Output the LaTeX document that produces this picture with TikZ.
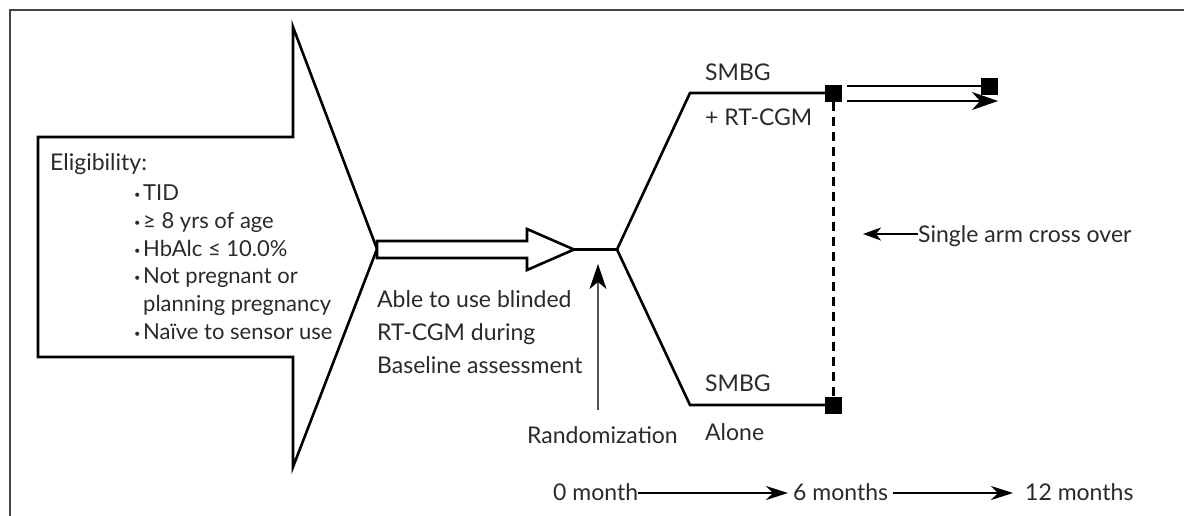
\documentclass[tikz,border=0pt]{standalone}
\usepackage{fontspec}
\setmainfont{Lato}
\usetikzlibrary{arrows.meta}
\definecolor{ink}{HTML}{2A2A2A}
\definecolor{framec}{HTML}{444444}
\definecolor{rgray}{HTML}{555555}
\newcommand{\bul}{\makebox[9pt][l]{\raisebox{2pt}{\scalebox{0.5}{•}}}}
\begin{document}
\begin{tikzpicture}[x=1pt,y=-1pt,
  shape line/.style={line width=2.6pt, line join=miter, draw=black},
  branch/.style={line width=2.6pt, line join=miter, draw=black},
  lbl/.style={inner sep=0pt, anchor=base west, text=ink, font=\fontsize{23}{27}\selectfont},
  listlbl/.style={lbl, font=\fontsize{22}{26}\selectfont},
  sq/.style={fill=black, draw=none, minimum size=17pt, inner sep=0pt},
  crossline/.style={line width=3pt, dash pattern=on 9pt off 6pt},
  timearrow/.style={line width=1.3pt, -{Stealth[length=22pt,width=14pt,inset=7pt]}},
  rarrow/.style={line width=2.2pt, -{Stealth[length=26pt,width=18pt,inset=8pt]}},
  sarrow/.style={line width=2pt, -{Stealth[length=18pt,width=13pt,inset=5pt]}},
  randarrow/.style={line width=1.2pt, draw=rgray, -{Stealth[length=25pt,width=17pt,inset=7pt,color=black,fill=black]}}
]
\useasboundingbox (0,0) rectangle (1184,515);
\fill[white] (0,0) rectangle (1184,515);
% frame (only top and left sides visible)
\draw[framec, line width=2pt] (10,530) -- (10,10) -- (1200,10);

% big eligibility arrow
\draw[shape line, fill=white] (38,137) -- (293,137) -- (293,27) -- (377,249) -- (293,467) -- (293,357) -- (38,357) -- cycle;
% hollow arrow
\draw[shape line, fill=white] (377,241) -- (527,241) -- (527,229) -- (574,249.5) -- (527,270) -- (527,258) -- (377,258) -- cycle;

\coordinate (tip) at (574,249.5);
\coordinate (split) at (617,249.5);
\coordinate (up) at (690,93);
\coordinate (down) at (690,405);

\node[sq] (sq1) at (833,93) {};
\node[sq] (sq2) at (833,405) {};
\node[sq] (sq3) at (989,86) {};

\draw[branch] (tip) -- (split);
\draw[branch] (split) -- (up) -- (sq1.center);
\draw[branch] (split) -- (down) -- (sq2.center);
\draw[crossline] (sq1.south) -- (sq2.north);

\coordinate (r1) at (847,86);
\coordinate (r2) at (847,101);
\coordinate (r2e) at (998,101);
\draw[line width=2.2pt] (r1) -- (sq3.center);
\draw[rarrow] (r2) -- (r2e);

% texts
\node[lbl] (elig) at (50,170) {Eligibility:};
\node[listlbl] (e1) at (134,200) {\bul TID};
\node[listlbl] (e2) at (134,228) {\bul ≥ 8 yrs of age};
\node[listlbl] (e3) at (134,256) {\bul HbAlc ≤ 10.0\%};
\node[listlbl] (e4) at (134,283) {\bul Not pregnant or};
\node[listlbl] (e5) at (143,311) {planning pregnancy};
\node[listlbl] (e6) at (134,339) {\bul Naïve to sensor use};

\node[lbl] (a1) at (377,307) {Able to use blinded};
\node[lbl] (a2) at (377,340) {RT-CGM during};
\node[lbl] (a3) at (377,373) {Baseline assessment};

\node[lbl] (s1) at (705,80) {SMBG};
\node[lbl] (s2) at (705,125) {+ RT-CGM};
\node[lbl] (s3) at (705,391) {SMBG};
\node[lbl] (s4) at (705,440) {Alone};

\node[lbl] (rz) at (527,443) {Randomization};
\coordinate (rzb) at (598,410);
\coordinate (rzt) at (598,264);
\draw[randarrow] (rzb) -- (rzt);

\node[lbl] (sa) at (918,242) {Single arm cross over};
\coordinate (sat) at (863,234);
\draw[sarrow] (sa.west |- sat) -- (sat);

\node[lbl] (m0) at (553,500) {0 month};
\node[lbl] (m6) at (793,500) {6 months};
\node[lbl] (m12) at (1025,500) {12 months};
\draw[timearrow] (m0.east |- 0,493) -- ([xshift=-5pt]m6.west |- 0,493);
\draw[timearrow] ([xshift=5pt]m6.east |- 0,493) -- ([xshift=-12pt]m12.west |- 0,493);
\end{tikzpicture}
\end{document}
